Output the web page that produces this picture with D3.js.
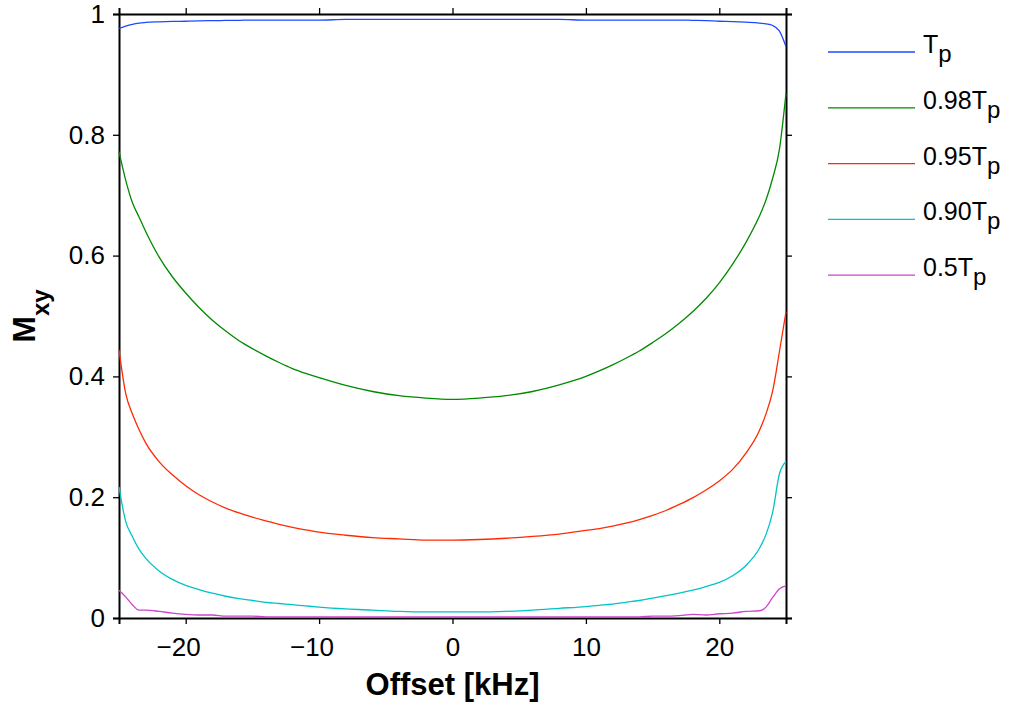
<!DOCTYPE html>
<html><head><meta charset="utf-8">
<script src="https://cdn.jsdelivr.net/npm/d3@7"></script>
<style>body{margin:0;background:#fff}svg{display:block}text{font-family:"Liberation Sans",Arial,Helvetica,sans-serif}</style>
</head><body><svg id="c" width="1009" height="702"></svg>
<script>
const offsets = [-25,-24.5,-24,-23.5,-23,-22,-21,-20,-19,-18,-17,-16,-15,-14,-13,-12,-11,-10,-8,-6,-4,-2,0,2,4,6,8,10,11,12,13,14,15,16,17,18,19,20,21,22,23,23.5,24,24.5,25];
const mxyTp = [0.976,0.980,0.983,0.985,0.986,0.987,0.9877,0.988,0.9885,0.989,0.9893,0.9896,0.990,0.990,0.990,0.990,0.990,0.990,0.991,0.991,0.991,0.991,0.991,0.991,0.991,0.991,0.991,0.990,0.990,0.990,0.990,0.990,0.990,0.990,0.990,0.9895,0.989,0.988,0.9875,0.9865,0.985,0.9835,0.981,0.972,0.946];
const mxy098 = [0.772,0.725,0.688,0.664,0.640,0.598,0.565,0.538,0.514,0.493,0.475,0.459,0.446,0.434,0.423,0.413,0.405,0.398,0.385,0.375,0.368,0.364,0.362,0.364,0.368,0.375,0.386,0.400,0.409,0.419,0.430,0.442,0.456,0.471,0.488,0.507,0.529,0.555,0.586,0.622,0.665,0.692,0.728,0.775,0.869];
const mxy095 = [0.444,0.372,0.338,0.312,0.290,0.259,0.237,0.219,0.204,0.192,0.182,0.174,0.167,0.161,0.155,0.150,0.146,0.142,0.137,0.133,0.131,0.129,0.129,0.130,0.132,0.135,0.139,0.145,0.148,0.152,0.157,0.163,0.170,0.178,0.188,0.199,0.212,0.227,0.246,0.273,0.310,0.338,0.376,0.440,0.507];
const mxy090 = [0.217,0.160,0.135,0.114,0.099,0.078,0.064,0.054,0.047,0.041,0.036,0.032,0.029,0.026,0.024,0.022,0.020,0.018,0.015,0.013,0.011,0.010,0.010,0.010,0.011,0.013,0.016,0.019,0.021,0.023,0.026,0.029,0.033,0.037,0.041,0.046,0.052,0.059,0.070,0.087,0.115,0.138,0.175,0.238,0.259];
const mxy050 = [0.046,0.035,0.022,0.013,0.013,0.011,0.008,0.006,0.005,0.005,0.003,0.003,0.003,0.002,0.002,0.002,0.002,0.002,0.002,0.002,0.002,0.002,0.002,0.002,0.002,0.002,0.002,0.002,0.002,0.002,0.002,0.002,0.003,0.003,0.004,0.006,0.005,0.007,0.008,0.011,0.012,0.018,0.034,0.048,0.053];
const seriesNames = ["T", "0.98T", "0.95T", "0.90T", "0.5T"];
const seriesColors = ["#2048ff", "#008a00", "#ff2a00", "#00c4c8", "#cc44cc"];
const seriesValues = [mxyTp, mxy098, mxy095, mxy090, mxy050];
const xTicks = [-20,-10,0,10,20];
const yTicks = [0,0.2,0.4,0.6,0.8,1];

const svg = d3.select("#c");
const L = 119, R = 786, T = 14, B = 618;
const x = d3.scaleLinear().domain([-25,25]).range([L,R]);
const y = d3.scaleLinear().domain([0,1]).range([B,T]);

const fmtY = d => d===0 ? "0" : d===1 ? "1" : d3.format(".1f")(d);
const fmtX = d => String(Math.abs(d));

function styleAxis(g){
  g.select(".domain").attr("stroke","#000").attr("stroke-width",2);
  g.selectAll(".tick line").attr("stroke","#000").attr("stroke-width",1.3);
  g.selectAll("text").attr("font-size",26).attr("fill","#000").attr("font-family","Liberation Sans, Arial, sans-serif");
}
const gx = svg.append("g").attr("transform",`translate(0,${B})`)
  .call(d3.axisBottom(x).tickValues(xTicks).tickFormat(fmtX).tickSizeOuter(0).tickSize(6).tickPadding(14))
  .call(styleAxis);
// minus sign hangs to the left of the centred digits
gx.selectAll(".tick").each(function(d){
  if (d < 0) {
    const t = d3.select(this).select("text");
    const w = t.node().getComputedTextLength();
    d3.select(this).append("text").attr("x",-w/2).attr("y",t.attr("y")).attr("dy",t.attr("dy"))
      .attr("text-anchor","end").attr("font-size",26).attr("fill","#000").text("\u2212");
  }
});
svg.append("g").attr("transform",`translate(0,${T})`)
  .call(d3.axisTop(x).tickValues(xTicks).tickFormat("").tickSizeOuter(0).tickSize(6))
  .call(styleAxis);
svg.append("g").attr("transform",`translate(${L},0)`)
  .call(d3.axisLeft(y).tickValues(yTicks).tickFormat(fmtY).tickSizeOuter(0).tickSize(6).tickPadding(8))
  .call(styleAxis);
svg.append("g").attr("transform",`translate(${R},0)`)
  .call(d3.axisRight(y).tickValues(yTicks).tickFormat("").tickSizeOuter(0).tickSize(6))
  .call(styleAxis);

const line = d3.line().x(d=>x(d[0])).y(d=>y(d[1])).curve(d3.curveMonotoneX);
seriesValues.forEach((vals,i)=>{
  svg.append("path").datum(offsets.map((o,j)=>[o,vals[j]]))
    .attr("d",line).attr("fill","none").attr("stroke",seriesColors[i]).attr("stroke-width",1.3);
});

// axis titles
svg.append("text").attr("x",(L+R)/2).attr("y",695).attr("text-anchor","middle")
  .attr("font-size",31).attr("font-weight","bold").text("Offset [kHz]");
const yt = svg.append("text").attr("transform",`translate(35,${(T+B)/2}) rotate(-90)`)
  .attr("text-anchor","middle").attr("font-size",32).attr("font-weight","bold");
yt.append("tspan").text("M");
yt.append("tspan").attr("font-size",24).attr("dy",14).text("xy");

// legend
const legY0 = 52, legDy = 55.8;
seriesNames.forEach((n,i)=>{
  const yy = legY0 + i*legDy;
  svg.append("line").attr("x1",828).attr("x2",915).attr("y1",yy).attr("y2",yy)
    .attr("stroke",seriesColors[i]).attr("stroke-width",1.3);
  const t = svg.append("text").attr("x",923).attr("y",yy+1).attr("font-size",25).attr("fill","#000");
  t.append("tspan").text(n);
  t.append("tspan").attr("font-size",24).attr("dy",9).text("p");
});
</script></body></html>
